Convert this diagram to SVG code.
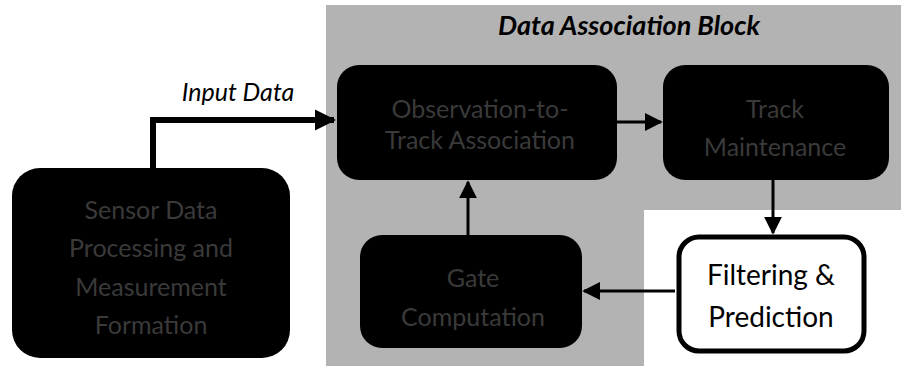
<svg xmlns="http://www.w3.org/2000/svg" width="901" height="367" viewBox="0 0 901 367">
  <defs>
    <marker id="head" viewBox="0 0 10 10" refX="9" refY="5" markerWidth="6" markerHeight="6" markerUnits="strokeWidth" orient="auto">
      <path d="M0,0 L10,5 L0,10 Z" fill="#000"/>
    </marker>
    <marker id="headWide" viewBox="0 0 10 10" refX="9" refY="5" markerWidth="3.6" markerHeight="4" markerUnits="strokeWidth" orient="auto">
      <path d="M0,0 L10,5 L0,10 Z" fill="#000"/>
    </marker>
    <style>
      .dark { fill: #000; }
      .dark-label { font-family: Lato, "Open Sans", sans-serif; font-size: 25px; fill: #3a3a3a; text-anchor: middle; }
      .light { fill: #fff; stroke: #000; stroke-width: 5; }
      .light-label { font-family: Lato, "Open Sans", sans-serif; font-size: 28px; fill: #000; text-anchor: middle; }
      .caption { font-family: Lato, "Open Sans", sans-serif; font-style: italic; fill: #000; text-anchor: middle; }
      .link { fill: none; stroke: #000; stroke-width: 3; marker-end: url(#head); }
    </style>
  </defs>

  <rect width="901" height="367" fill="#fff"/>

  <!-- shaded data association region (L-shaped) -->
  <path d="M326,5 H901 V210 H644 V366 H326 Z" fill="#b3b3b3"/>
  <text class="caption" x="629" y="35" font-size="27" font-weight="bold">Data Association Block</text>

  <g id="connectors">
    <path d="M153,168 V120 H334" fill="none" stroke="#000" stroke-width="6" marker-end="url(#headWide)"/>
    <path class="link" d="M617,122 H661"/>
    <path class="link" d="M773,180 V233"/>
    <path class="link" d="M675,291 H584"/>
    <path class="link" d="M468,235 V182"/>
  </g>
  <text class="caption" x="238" y="101" font-size="25">Input Data</text>

  <g id="sensor">
    <rect class="dark" x="12" y="168" width="278" height="190" rx="28"/>
    <text class="dark-label" x="151" y="219">Sensor Data</text>
    <text class="dark-label" x="151" y="257">Processing and</text>
    <text class="dark-label" x="151" y="296">Measurement</text>
    <text class="dark-label" x="151" y="334">Formation</text>
  </g>

  <g id="association">
    <rect class="dark" x="337" y="65" width="280" height="115" rx="22"/>
    <text class="dark-label" x="480" y="118">Observation-to-</text>
    <text class="dark-label" x="480" y="149">Track Association</text>
  </g>

  <g id="maintenance">
    <rect class="dark" x="663" y="65" width="226" height="115" rx="22"/>
    <text class="dark-label" x="775" y="118">Track</text>
    <text class="dark-label" x="775" y="156">Maintenance</text>
  </g>

  <g id="gating">
    <rect class="dark" x="360" y="235" width="222" height="113" rx="22"/>
    <text class="dark-label" x="473" y="287">Gate</text>
    <text class="dark-label" x="473" y="326">Computation</text>
  </g>

  <g id="filtering">
    <rect class="light" x="679" y="237" width="185" height="114" rx="20"/>
    <text class="light-label" x="771" y="285">Filtering &amp;</text>
    <text class="light-label" x="771" y="327">Prediction</text>
  </g>
</svg>
